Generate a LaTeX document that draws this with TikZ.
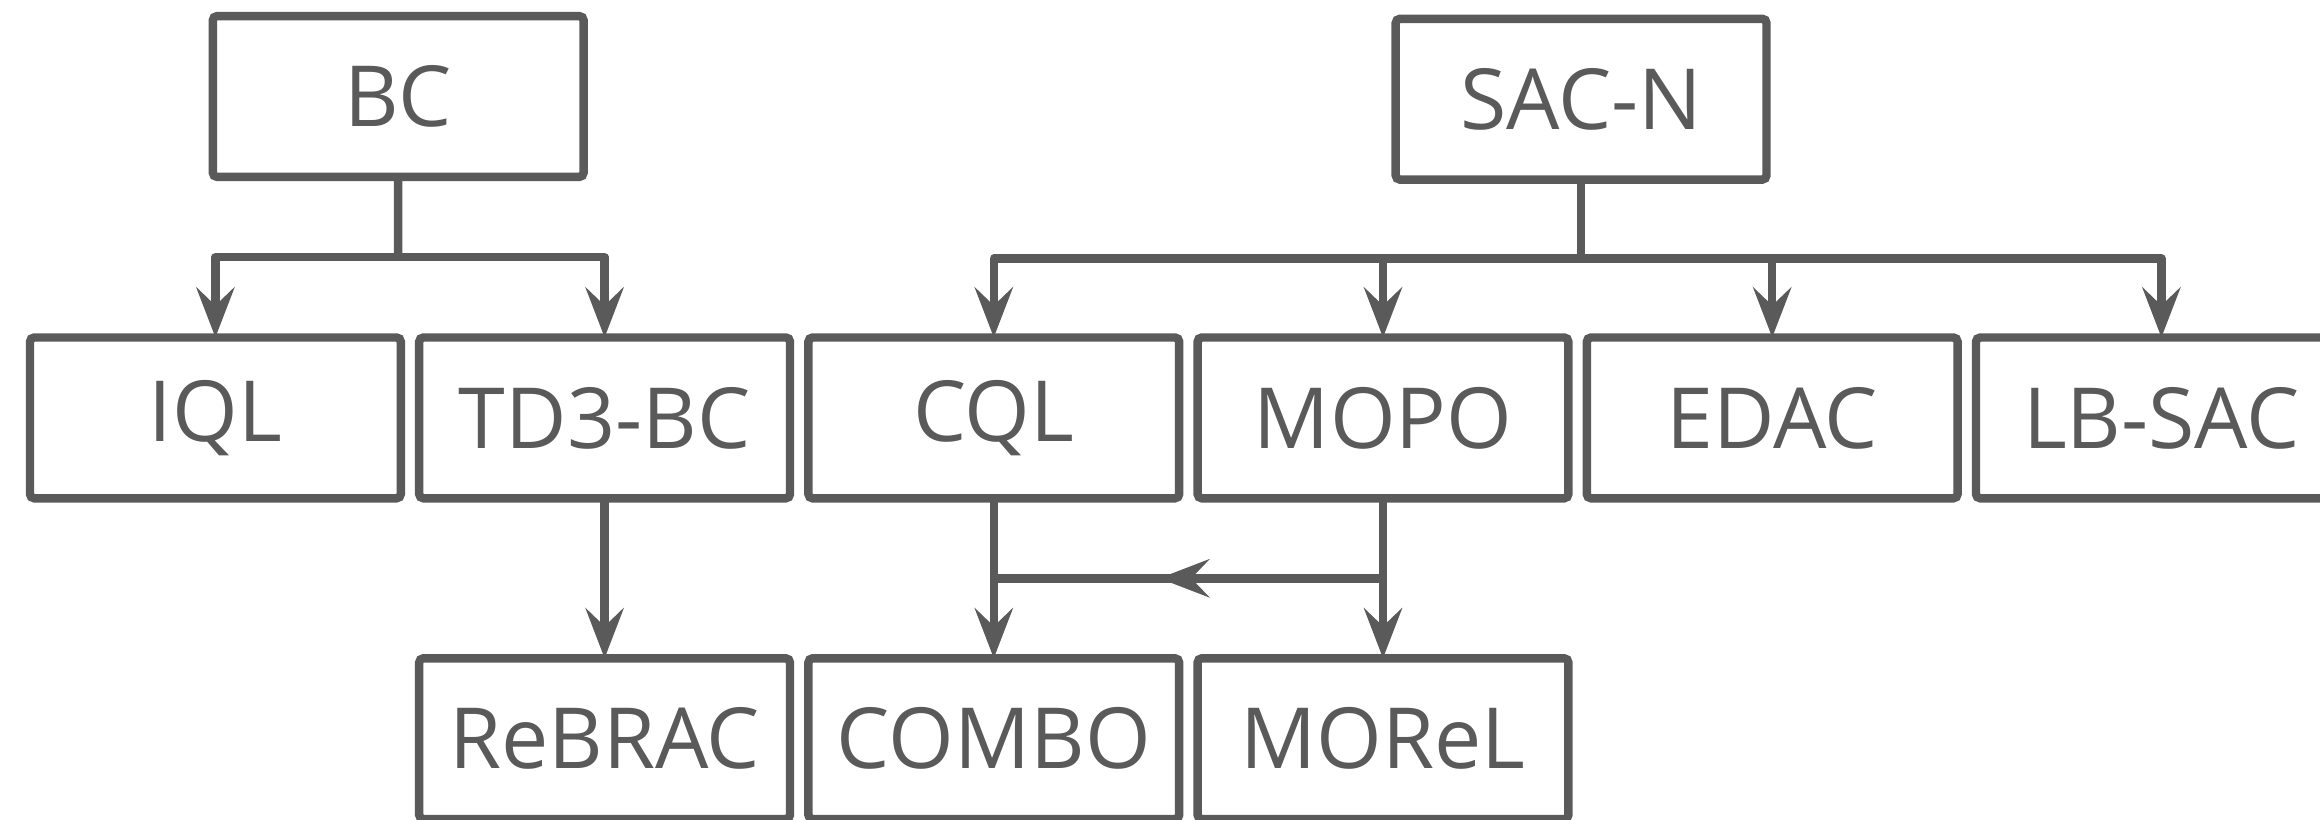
\documentclass[tikz,border=0pt]{standalone}
\usepackage{fontspec}
\setmainfont{Open Sans}
\usetikzlibrary{arrows.meta, positioning, calc, decorations.markings}
\definecolor{linegray}{HTML}{5A5A5A}

\begin{document}
\begin{tikzpicture}[
    algbox/.style={rectangle, draw=linegray, line width=2.4pt, rounded corners=1.2pt, minimum width=3.708cm, minimum height=1.608cm, inner sep=0pt, outer sep=0pt, align=center, text=linegray, font=\fontsize{24}{28}\selectfont},
    conn/.style={linegray, line width=2.4pt, line join=round},
    arr/.style={conn, -{Stealth[length=5mm, width=3.8mm, inset=1.8mm]}},
    midarr/.style={conn, decoration={markings, mark=at position 0.575 with {\arrow{Stealth[length=5mm, width=3.8mm, inset=1.8mm]}}}, postaction={decorate}}]

  \useasboundingbox (0, 0) rectangle (23.2, 8.19);

  % Top row
  \node[algbox] (bc) at (3.982, 7.225) {BC};
  \node[algbox] (sacn) at (15.811, 7.198) {SAC-N};

  % Middle row
  \node[algbox] (iql) at (2.154, 4.011) {IQL};
  \node[algbox] (td3bc) at (6.046, 4.011) {TD3-BC};
  \node[algbox] (cql) at (9.938, 4.011) {CQL};
  \node[algbox] (mopo) at (13.830, 4.011) {MOPO};
  \node[algbox] (edac) at (17.722, 4.011) {EDAC};
  \node[algbox] (lbsac) at (21.614, 4.011) {LB-SAC};

  % Bottom row
  \node[algbox] (rebrac) at (6.046, 0.803) {ReBRAC};
  \node[algbox] (combo) at (9.938, 0.803) {COMBO};
  \node[algbox] (morel) at (13.830, 0.803) {MOReL};

  % BC branch
  \coordinate (bcj) at ($(bc.south)!0.5!(bc.south |- iql.north)$);
  \draw[conn] (bc.south) -- (bcj);
  \draw[arr] (bcj) -| (iql.north);
  \draw[arr] (bcj) -| (td3bc.north);

  % SAC-N branch
  \coordinate (sacj) at ($(sacn.south)!0.5!(sacn.south |- cql.north)$);
  \draw[conn] (sacn.south) -- (sacj);
  \draw[arr] (sacj) -| (cql.north);
  \draw[arr] (sacj) -| (mopo.north);
  \draw[arr] (sacj) -| (edac.north);
  \draw[arr] (sacj) -| (lbsac.north);

  % lower links
  \draw[arr] (td3bc.south) -- (rebrac.north);
  \draw[arr] (cql.south) -- (combo.north);
  \draw[arr] (mopo.south) -- (morel.north);
  \coordinate (mopoj) at ($(mopo.south)!0.5!(morel.north)$);
  \draw[midarr] (mopoj) -- (mopoj -| cql.south);
\end{tikzpicture}
\end{document}
